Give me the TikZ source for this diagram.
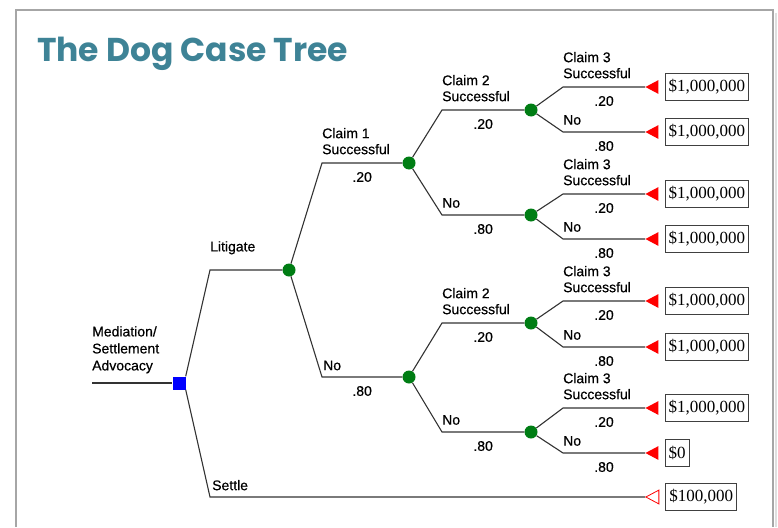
\documentclass[tikz,border=0pt]{standalone}
\usepackage{fontspec}
\setmainfont{Liberation Sans}
\newfontfamily\labfont[FakeBold=0.5]{Liberation Sans}
\newfontfamily\titlefont{Poppins}
\newfontfamily\payfont{Liberation Serif}
\usetikzlibrary{positioning,
                shapes.geometric}
\definecolor{titleteal}{RGB}{62,131,150}
\definecolor{chancegreen}{RGB}{0,125,20}

\begin{document}
\begin{tikzpicture}%
    [x=1pt, y=-1pt,
     branch/.style={draw=black!80, line width=1.1pt},
     decision/.style={rectangle, fill=blue, minimum size=13pt, inner sep=0pt},
     chance/.style={circle, fill=chancegreen, minimum size=13pt, inner sep=0pt},
     endpt/.style={isosceles triangle, isosceles triangle apex angle=56,
                   shape border rotate=180, fill=red, minimum height=13pt,
                   inner sep=0pt, anchor=apex},
     openend/.style={endpt, fill=none, draw=red, line width=0.8pt},
     payoff/.style={draw=black!75, line width=1.1pt, inner xsep=3.5pt, inner ysep=0pt,
                    minimum height=27pt, font=\payfont\fontsize{17}{17}\selectfont},
     lab/.style={anchor=south west, inner sep=0pt, align=left,
                 font=\labfont\fontsize{14}{16}\selectfont},
     prob/.style={anchor=north, inner sep=0pt, yshift=-8.5pt,
                  font=\labfont\fontsize{14}{16}\selectfont}]
    \useasboundingbox (0,0) rectangle (778,527);

    % frame and title
    \draw[gray!25, line width=2pt] (776,13) -- (776,527);
    \draw[gray!70, line width=2pt] (16,527) -- (16,10) -- (773,10) -- (773,527);
    \node[anchor=base west, inner sep=0pt, text=titleteal,
          font=\titlefont\bfseries\fontsize{33}{33}\selectfont] (title) at (37,62) {The Dog Case Tree};

    % nodes
    \coordinate (root) at (92,383);
    \node[decision] (d0) at (179,383) {};
    \coordinate (kLit) at (210,270);
    \coordinate (kSet) at (210,497);
    \node[chance] (c0) at (289,270) {};
    \coordinate (k1) at (322,163);
    \coordinate (k2) at (322,377);
    \node[chance] (c1) at (409,163) {};
    \node[chance] (c2) at (409,377) {};
    \coordinate (k11) at (442,110);
    \coordinate (k12) at (442,215);
    \coordinate (k21) at (442,323);
    \coordinate (k22) at (442,432);
    \node[chance] (c11) at (531,110) {};
    \node[chance] (c12) at (531,215) {};
    \node[chance] (c21) at (531,323) {};
    \node[chance] (c22) at (531,432) {};

    % first level
    \draw[branch] (root) -- (d0);
    \node[lab, yshift=9.5pt] at (root) {Mediation/\\[1pt]Settlement\\[1pt]Advocacy};
    \draw[branch] (d0.north east) -- (kLit) -- (c0);
    \node[lab, yshift=15.5pt] at (kLit) {Litigate};
    \node[openend] (tSet) at (645,497) {};
    \draw[branch] (d0.south east) -- (kSet) -- (tSet);
    \node[lab, xshift=2pt, yshift=6.5pt] at (kSet) {Settle};
    \node[payoff, right=6pt of tSet] (pSet) {\$100,000};

    % second level
    \draw[branch] (c0) -- (k1) -- node[prob] {.20} (c1);
    \node[lab, yshift=8.5pt] at (k1) {Claim 1\\Successful};
    \draw[branch] (c0) -- (k2) -- node[prob] {.80} (c2);
    \node[lab, xshift=1pt, yshift=6.5pt] at (k2) {No};

    % third level
    \draw[branch] (c1) -- (k11) -- node[prob] {.20} (c11);
    \node[lab, yshift=8.5pt] at (k11) {Claim 2\\Successful};
    \draw[branch] (c1) -- (k12) -- node[prob] {.80} (c12);
    \node[lab, yshift=7pt] at (k12) {No};
    \draw[branch] (c2) -- (k21) -- node[prob] {.20} (c21);
    \node[lab, yshift=8.5pt] at (k21) {Claim 2\\Successful};
    \draw[branch] (c2) -- (k22) -- node[prob] {.80} (c22);
    \node[lab, yshift=7pt] at (k22) {No};

    % fourth level, claim 3
    \coordinate (k111) at (563,87);
    \coordinate (k112) at (563,132);
    \coordinate (k121) at (563,194);
    \coordinate (k122) at (563,239);
    \coordinate (k211) at (563,301);
    \coordinate (k212) at (563,347);
    \coordinate (k221) at (563,408);
    \coordinate (k222) at (563,453);
    \node[endpt] (t111) at (645,87) {};
    \node[endpt] (t112) at (645,132) {};
    \node[endpt] (t121) at (645,194) {};
    \node[endpt] (t122) at (645,239) {};
    \node[endpt] (t211) at (645,301) {};
    \node[endpt] (t212) at (645,347) {};
    \node[endpt] (t221) at (645,408) {};
    \node[endpt] (t222) at (645,453) {};

    \draw[branch] (c11) -- (k111) -- node[prob] {.20} (t111);
    \node[lab, yshift=8.5pt] at (k111) {Claim 3\\Successful};
    \draw[branch] (c11) -- (k112) -- node[prob] {.80} (t112);
    \node[lab, yshift=7pt] at (k112) {No};
    \draw[branch] (c12) -- (k121) -- node[prob] {.20} (t121);
    \node[lab, yshift=8.5pt] at (k121) {Claim 3\\Successful};
    \draw[branch] (c12) -- (k122) -- node[prob] {.80} (t122);
    \node[lab, yshift=7pt] at (k122) {No};
    \draw[branch] (c21) -- (k211) -- node[prob] {.20} (t211);
    \node[lab, yshift=8.5pt] at (k211) {Claim 3\\Successful};
    \draw[branch] (c21) -- (k212) -- node[prob] {.80} (t212);
    \node[lab, yshift=7pt] at (k212) {No};
    \draw[branch] (c22) -- (k221) -- node[prob] {.20} (t221);
    \node[lab, yshift=8.5pt] at (k221) {Claim 3\\Successful};
    \draw[branch] (c22) -- (k222) -- node[prob] {.80} (t222);
    \node[lab, yshift=7pt] at (k222) {No};

    % payoffs
    \node[payoff, right=6pt of t111] (p111) {\$1,000,000};
    \node[payoff, right=6pt of t112] (p112) {\$1,000,000};
    \node[payoff, right=6pt of t121] (p121) {\$1,000,000};
    \node[payoff, right=6pt of t122] (p122) {\$1,000,000};
    \node[payoff, right=6pt of t211] (p211) {\$1,000,000};
    \node[payoff, right=6pt of t212] (p212) {\$1,000,000};
    \node[payoff, right=6pt of t221] (p221) {\$1,000,000};
    \node[payoff, right=6pt of t222] (p222) {\$0};
\end{tikzpicture}
\end{document}
